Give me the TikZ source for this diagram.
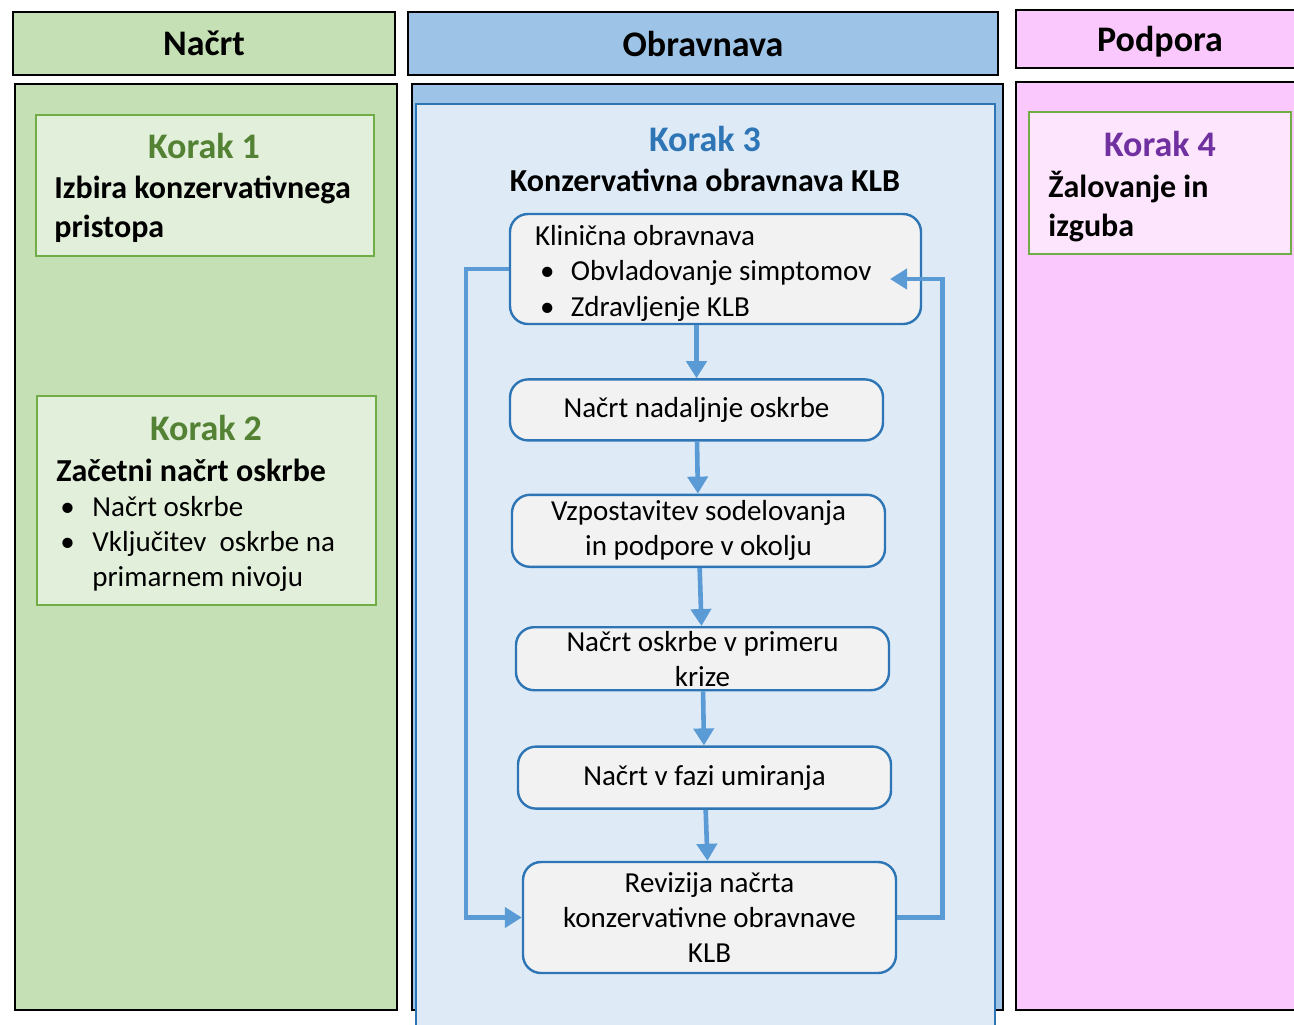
\documentclass[tikz,border=0pt]{standalone}
\usepackage{fontspec}
\setmainfont{Carlito}
\usepackage{xcolor}
\usepackage{tikz}
\usetikzlibrary{arrows.meta}
\usetikzlibrary{positioning}
\usetikzlibrary{calc}
\definecolor{planGreen}{HTML}{C5E0B4}
\definecolor{stepFillGreen}{HTML}{E2EFDA}
\definecolor{stepEdge}{HTML}{70AD47}
\definecolor{titleGreen}{HTML}{548235}
\definecolor{treatBlue}{HTML}{9DC3E6}
\definecolor{panelBlue}{HTML}{DEEBF7}
\definecolor{panelEdge}{HTML}{2E75B6}
\definecolor{titleBlue}{HTML}{2E75B6}
\definecolor{supportPink}{HTML}{FAC8FC}
\definecolor{stepFillPink}{HTML}{FDE5FE}
\definecolor{titlePurple}{HTML}{7030A0}
\definecolor{flowFill}{HTML}{F2F2F2}
\definecolor{arrowBlue}{HTML}{5B9BD5}
\tikzset{
  >={Triangle[width=10pt,length=8.5pt]},
  bodyfont/.style={font=\fontsize{14.5}{17.5}\selectfont}
}
\newcommand{\bul}[1]{\makebox[#1][l]{\textbullet}}

\begin{document}
\begin{tikzpicture}[x=0.5pt, y=-0.5pt, node distance=28pt]
    % Define styles
    \tikzstyle{colframe} = [draw=black, line width=1.4pt]
    \tikzstyle{heading} = [font=\fontsize{18}{22}\selectfont\bfseries]
    \tikzstyle{stepbox} = [draw=stepEdge, line width=1pt, anchor=north west, inner sep=0pt]
    \tikzstyle{steptitle} = [font=\fontsize{18}{22}\selectfont\bfseries]
    \tikzstyle{steptext} = [font=\fontsize{16}{19.5}\selectfont\bfseries, align=left, anchor=west, inner sep=0pt]
    \tikzstyle{listtext} = [bodyfont, align=left, anchor=west, inner sep=0pt]
    \tikzstyle{flowbox} = [rectangle, draw=panelEdge, fill=flowFill, line width=1.2pt, rounded corners=9pt, bodyfont, align=flush center, text width=178pt, inner xsep=4.25pt, inner ysep=0pt, minimum height=30.5pt]
    \tikzstyle{flow} = [draw=arrowBlue, line width=2.3pt, ->]

    \useasboundingbox (0,0) rectangle (1294,1024);

    % Columns
    \draw[colframe, fill=planGreen] (13,12) rectangle node[heading] (hPlan) {Načrt} (395,75);
    \draw[colframe, fill=treatBlue] (408,12) rectangle node[heading] (hTreat) {Obravnava} (998,75);
    \draw[colframe, fill=supportPink] (1016,10) rectangle node[heading, yshift=-1.5pt] (hSupport) {Podpora} (1304,68);
    \draw[colframe, fill=planGreen] (15,84) rectangle (397,1010);
    \draw[colframe, fill=treatBlue] (412,84) rectangle (1003,1010);
    \draw[colframe, fill=supportPink] (1016,82) rectangle (1304,1010);
    \draw[draw=panelEdge, line width=0.8pt, fill=panelBlue] (416,104) rectangle (995,1034);

    % Step boxes
    \node[stepbox, fill=stepFillGreen, minimum width=169pt, minimum height=70.5pt] (step1) at (35,114) {};
    \node[steptitle, text=titleGreen] (step1title) at (204,146) {Korak 1};
    \node[steptext] (step1text) at (54,209) {Izbira konzervativnega\\pristopa};

    \node[stepbox, fill=stepFillGreen, minimum width=169.5pt, minimum height=104.5pt] (step2) at (36,395) {};
    \node[steptitle, text=titleGreen] (step2title) at (206,428) {Korak 2};
    \node[steptext] (step2text) at (56,470) {Začetni načrt oskrbe};
    \node[listtext] (step2list) at (60,544) {\bul{16pt}Načrt oskrbe\\\bul{16pt}Vključitev\ \ oskrbe na\\\hspace*{16pt}primarnem nivoju};

    \node[stepbox, fill=stepFillPink, minimum width=131pt, minimum height=71pt] (step4) at (1028,111) {};
    \node[steptitle, text=titlePurple] (step4title) at (1160,144) {Korak 4};
    \node[steptext] (step4text) at (1048,207) {Žalovanje in\\izguba};

    \node[steptitle, text=titleBlue] (step3title) at (705,139) {Korak 3};
    \node[steptitle, font=\fontsize{16}{19.5}\selectfont\bfseries] (step3text) at (705,180) {Konzervativna obravnava KLB};

    % Place nodes
    \node[flowbox, align=flush left, text width=180.5pt, inner xsep=12.5pt, minimum height=55pt,
          font=\fontsize{14.5}{17.75}\selectfont] (clinic) at (715.5,269)
      {\rule{0pt}{14pt}Klinična obravnava\\\hspace*{2.5pt}\bul{15.5pt}Obvladovanje simptomov\\\hspace*{2.5pt}\bul{15.5pt}Zdravljenje KLB};
    \node[flowbox, below=26.5pt of clinic, xshift=-9.5pt] (further) {Načrt nadaljnje oskrbe};
    \node[flowbox, below=26pt of further, xshift=1pt, minimum height=36pt] (network) {Vzpostavitev sodelovanja\\in podpore v okolju};
    \node[flowbox, below=29pt of network, xshift=2pt, minimum height=31.5pt] (crisis) {Načrt oskrbe v primeru\\krize};
    \node[flowbox, below=27pt of crisis, xshift=1pt, minimum height=31pt] (dying) {Načrt v fazi umiranja};
    \node[flowbox, below=25.5pt of dying, xshift=2.5pt, minimum height=55.5pt] (review) {Revizija načrta\\konzervativne obravnave\\KLB};
    \coordinate (backin) at (890,279);

    % Draw edges
    \path[flow] (clinic.south -| further) -- (further);
    \path[flow] (further) -- (network);
    \path[flow] (network) -- (crisis);
    \path[flow] (crisis) -- (dying);
    \path[flow] (dying) -- (review);
    \path[flow] (clinic.west) -- ++(-43,0) |- (review.west);
    \path[flow] (review.east) -- ++(45,0) |- (backin);
\end{tikzpicture}
\end{document}
